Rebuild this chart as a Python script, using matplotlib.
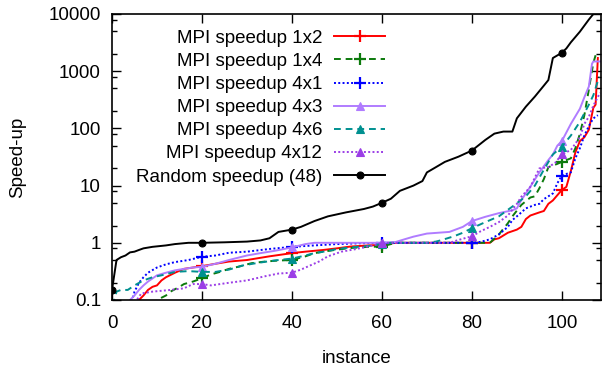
import numpy as np
import matplotlib
matplotlib.use("Agg")
import matplotlib.pyplot as plt
from matplotlib.ticker import LogLocator, FuncFormatter, NullFormatter, MultipleLocator

plt.rcParams["font.family"] = ["Liberation Sans", "DejaVu Sans"]

# instance / speed-up values
rand_x = [0, 1, 2, 3, 4, 5, 6, 7, 9, 12, 14, 17, 20, 25, 30, 33, 35, 37, 40, 42, 45, 48, 52, 56, 58,
          60, 62, 64, 67, 69, 70, 72, 74, 77, 80, 83, 85, 87, 89, 90, 92, 94, 96, 97, 98, 100, 101,
          102, 104, 106, 107, 108.7]
rand_y = [0.15, 0.5, 0.56, 0.6, 0.68, 0.7, 0.75, 0.8, 0.85, 0.9, 0.95, 1.0, 1.0, 1.02, 1.05, 1.1, 1.2,
          1.55, 1.7, 1.9, 2.4, 2.9, 3.4, 3.9, 4.3, 5.0, 5.9, 8.1, 10, 12, 17, 21, 26, 32, 41, 63, 81, 88,
          88, 150, 240, 360, 560, 700, 1700, 2100, 2500, 3200, 4900, 8000, 10000, 12000]

mpi12_x = [5, 6, 7, 8, 9, 10, 11, 12, 14, 16, 18, 20, 23, 26, 30, 35, 40, 43, 47, 50, 53, 57, 60, 63,
           80, 84, 85, 86, 88, 90, 91, 92, 93, 95, 96, 97, 98, 99, 100, 101, 102, 103, 104, 105, 106,
           107, 107.5, 108]
mpi12_y = [0.07, 0.1, 0.12, 0.15, 0.17, 0.18, 0.22, 0.25, 0.3, 0.35, 0.37, 0.39, 0.43, 0.47, 0.5,
           0.58, 0.66, 0.7, 0.75, 0.8, 0.86, 0.9, 0.92, 1.0, 1.0, 1.0, 1.15, 1.2, 1.5, 1.7, 1.9, 2.6,
           3.0, 3.4, 3.6, 4.8, 5.5, 6.8, 8.4, 9.5, 18, 38, 60, 70, 95, 230, 260, 1700]

mpi14_x = [9, 10, 12, 13, 15, 16, 18, 20, 22, 24, 26, 28, 31, 34, 37, 40, 43, 45, 48, 50, 53, 57, 60,
           62, 63, 80, 84, 86, 88, 89, 91, 93, 94, 95, 96, 97, 99, 100, 102, 103, 104, 105, 106, 107,
           107.5]
mpi14_y = [0.08, 0.1, 0.12, 0.14, 0.17, 0.19, 0.21, 0.24, 0.28, 0.31, 0.35, 0.38, 0.44, 0.47, 0.49,
           0.5, 0.58, 0.66, 0.72, 0.76, 0.81, 0.85, 0.86, 0.95, 1.0, 1.0, 1.0, 1.4, 2.2, 2.9, 4.6, 6.2,
           6.5, 9, 13, 21, 24, 26, 30, 45, 80, 170, 480, 1400, 1900]

mpi41_x = [4, 4.5, 5, 6, 7, 8, 10, 12, 14, 17, 20, 23, 26, 30, 35, 40, 45, 50, 55, 60, 80, 82, 84, 86,
           88, 89, 90, 92, 94, 95, 96, 97, 98, 99, 100, 101, 102, 103, 104, 105, 106, 107, 108]
mpi41_y = [0.08, 0.1, 0.14, 0.2, 0.25, 0.3, 0.37, 0.42, 0.46, 0.5, 0.57, 0.6, 0.67, 0.7, 0.78, 0.85,
           0.9, 0.95, 0.98, 1.0, 1.0, 1.04, 1.15, 1.4, 1.9, 2.5, 2.9, 4.0, 4.6, 4.8, 5.8, 6.5, 7.3, 11,
           15, 16, 17, 30, 45, 75, 110, 150, 170]

mpi43_x = [3.5, 4, 5, 6, 7, 8, 10, 12, 14, 16, 18, 20, 23, 26, 30, 33, 36, 40, 43, 45, 60, 63, 65, 67,
           70, 75, 78, 80, 83, 86, 89, 90, 91, 93, 95, 97, 98, 99, 100, 102, 104, 105, 106, 106.7, 107,
           108.7]
mpi43_y = [0.08, 0.1, 0.12, 0.15, 0.18, 0.21, 0.27, 0.3, 0.33, 0.35, 0.37, 0.38, 0.43, 0.5, 0.6,
           0.66, 0.72, 0.83, 0.95, 1.0, 1.0, 1.03, 1.15, 1.28, 1.45, 1.55, 1.9, 2.4, 2.85, 3.3, 3.7,
           4.0, 5.6, 9.6, 17, 28, 35, 50, 60, 120, 220, 350, 540, 1350, 1480, 1480]

mpi46_x = [0.3, 0.5, 1, 2, 3.5, 5, 7, 9, 11, 14, 17, 20, 23, 26, 29, 32, 36, 40, 43, 45, 48, 50, 53,
           57, 60, 62, 70, 72, 73, 76, 78, 80, 83, 86, 89, 92, 94, 96, 98, 100, 102, 104, 106, 107,
           108.3]
mpi46_y = [0.08, 0.1, 0.14, 0.15, 0.15, 0.18, 0.22, 0.25, 0.27, 0.31, 0.32, 0.31, 0.31, 0.34, 0.4,
           0.44, 0.49, 0.53, 0.6, 0.66, 0.72, 0.78, 0.83, 0.88, 0.95, 1.0, 1.0, 1.05, 1.1, 1.3, 1.5,
           1.8, 2.3, 2.9, 4.3, 6.5, 10, 19, 35, 48, 75, 130, 260, 380, 800]

mpi412_x = [5, 5.5, 6.5, 9, 13, 16, 18, 20, 22, 26, 30, 34, 37, 40, 42, 44, 46, 48, 51, 54, 58, 60,
            62, 75, 77, 80, 82, 84, 86, 88, 90, 91, 93, 95, 97, 98.5, 100, 102, 104, 105, 106, 107,
            108.5]
mpi412_y = [0.09, 0.1, 0.13, 0.14, 0.15, 0.16, 0.19, 0.19, 0.18, 0.2, 0.22, 0.26, 0.29, 0.3, 0.34,
            0.4, 0.47, 0.58, 0.7, 0.77, 0.9, 1.0, 1.0, 1.0, 1.12, 1.3, 1.6, 1.9, 2.3, 3.0, 4.8, 6.4,
            9.5, 20, 21, 25, 35, 42, 70, 120, 160, 250, 420]

series = [
    ("MPI speedup 1x2", mpi12_x, mpi12_y, "#ff0000", "-", "+"),
    ("MPI speedup 1x4", mpi14_x, mpi14_y, "#0c7a0c", (0, (3.5, 2.5)), "+"),
    ("MPI speedup 4x1", mpi41_x, mpi41_y, "#0000ff", (0, (1, 1.2)), "+"),
    ("MPI speedup 4x3", mpi43_x, mpi43_y, "#b07cff", "-", "^"),
    ("MPI speedup 4x6", mpi46_x, mpi46_y, "#009090", (0, (3.5, 2.5)), "^"),
    ("MPI speedup 4x12", mpi412_x, mpi412_y, "#9b3ee6", (0, (1, 1.2)), "^"),
    ("Random speedup (48)", rand_x, rand_y, "#000000", "-", "o"),
]

fig = plt.figure(figsize=(6.02, 3.69), dpi=100)
ax = fig.add_axes([112 / 602, 1 - 300 / 369, 489 / 602, 286 / 369])

for label, xs, ys, color, ls, mk in series:
    every = [i for i, v in enumerate(xs) if v % 20 == 0]
    ms = 8 if mk == "+" else (6 if mk == "^" else 5)
    ax.plot(xs, ys, color=color, linestyle=ls, linewidth=1.4, marker=mk, markevery=every,
            markersize=ms, markeredgewidth=1.6 if mk == "+" else 0.8, label=label)

ax.set_yscale("log")
ax.set_ylim(0.1, 10000)
ax.set_xlim(0, 108.7)
ax.xaxis.set_major_locator(MultipleLocator(20))
ax.yaxis.set_major_locator(LogLocator(base=10))
ax.yaxis.set_minor_locator(LogLocator(base=10, subs=[2, 5, 8]))
ax.yaxis.set_major_formatter(FuncFormatter(lambda v, _: f"{v:g}"))
ax.yaxis.set_minor_formatter(NullFormatter())

ax.tick_params(which="both", direction="in", top=True, right=True, labelsize=13.5, colors="black")
ax.tick_params(which="major", length=6.5, width=1)
ax.tick_params(which="minor", length=3.5, width=1)
ax.tick_params(axis="y", pad=8)
ax.tick_params(axis="x", pad=11)
for sp in ax.spines.values():
    sp.set_linewidth(1.2)

ax.set_xlabel("instance", fontsize=13.5, labelpad=13)
ax.set_ylabel("Speed-up", fontsize=13.5, labelpad=16)

# text on the left, sample line on the right, rows right-aligned (gnuplot style key)
ax.legend(loc="upper right", bbox_to_anchor=(0.558, 0.945), frameon=False, fontsize=13.5,
          markerfirst=False, handlelength=2.7, handletextpad=0.65, labelspacing=0.32,
          borderpad=0, borderaxespad=0)

fig.savefig("out.png", dpi=100)
